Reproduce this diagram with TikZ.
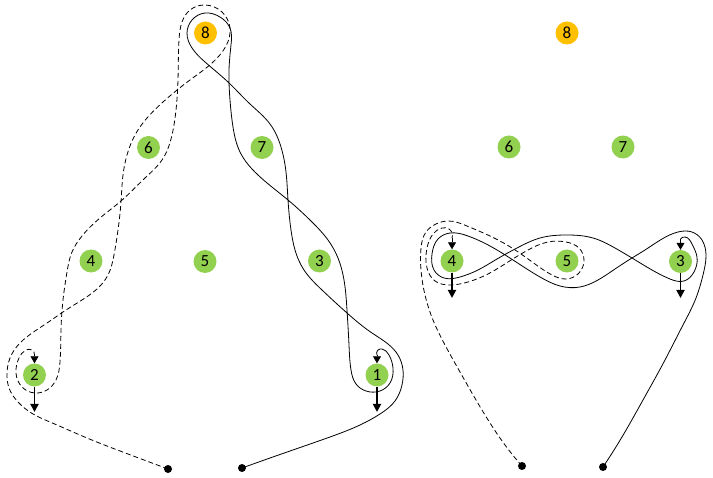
\documentclass[tikz,border=0pt]{standalone}
\usepackage{fontspec}
\setmainfont{Carlito}
\usetikzlibrary{arrows.meta,hobby}
\definecolor{nodegreen}{HTML}{92D050}
\definecolor{nodeorange}{HTML}{FFC000}
\begin{document}
\begin{tikzpicture}[x=1pt,y=-1pt,
  knot/.style={circle,fill=nodegreen,minimum size=23pt,inner sep=0pt,font=\fontsize{17}{19}\selectfont},
  topknot/.style={knot,fill=nodeorange},
  endpt/.style={circle,fill=black,minimum size=8pt,inner sep=0pt},
  strand/.style={line width=0.8pt,black},
  dstrand/.style={strand,dash pattern=on 5pt off 3pt},
  tipin/.style={line width=0.8pt,-{Triangle[length=7pt,width=8pt]}},
  thickarr/.style={line width=1.8pt,-{Triangle[length=8pt,width=8pt]}}]
\useasboundingbox (0,0) rectangle (713,478);

% ---------- left figure nodes
\node[topknot] (L8) at (205.5,33) {8};
\node[knot] (L6) at (148.5,147.5) {6};
\node[knot] (L7) at (262,147.5) {7};
\node[knot] (L4) at (91,261) {4};
\node[knot] (L5) at (205,261.5) {5};
\node[knot] (L3) at (319.5,261) {3};
\node[knot] (L2) at (34.5,375) {2};
\node[knot] (L1) at (377,375) {1};
\node[endpt] (LD1) at (168,469) {};
\node[endpt] (LD2) at (242,468) {};
\coordinate (L2in) at (34.5,355);
\coordinate (L1in) at (377,355);
\coordinate (L2out) at (34.5,412);
\coordinate (L1out) at (377,412);

% ---------- right figure nodes
\node[topknot] (R8) at (567,33) {8};
\node[knot] (R6) at (509,147) {6};
\node[knot] (R7) at (623,147) {7};
\node[knot] (R4) at (452,261) {4};
\node[knot] (R5) at (567,261) {5};
\node[knot] (R3) at (680.5,261.5) {3};
\node[endpt] (RD1) at (522,466) {};
\node[endpt] (RD2) at (603,467) {};
\coordinate (R4in) at (452,238);
\coordinate (R3in) at (680.5,239);
\coordinate (R4out) at (452,298);
\coordinate (R3out) at (680.5,298);

% ---------- left dashed strand
\draw[dstrand] (LD1.center) to[curve through={(128,454) .. (87,438) .. (50,422) .. (33,414) .. (18,402) .. (9,388) .. (7,375) .. (10,358) .. (20,343) .. (35,331) .. (50,321) .. (63,312) .. (82,300) .. (97,289) .. (108,275) .. (114,255) .. (118,230) .. (121,202) .. (123,175) .. (127,155) .. (135,135) .. (147,118) .. (163,102) .. (190,80) .. (212,63) .. (226,46) .. (230,28) .. (222,12) .. (205,5) .. (190,10) .. (182,22) .. (179,40) .. (178,80) .. (176,110) .. (172,135) .. (162,160) .. (145,178) .. (121,201) .. (100,218) .. (82,236) .. (72,252) .. (67,272) .. (63,300) .. (61,330) .. (60,362) .. (56,380) .. (47,390) .. (35,393) .. (22,387) .. (16,373) .. (19,358) .. (26,350) .. (32,350)}] (L2in);
\draw[tipin] (L2in) -- (L2);

% ---------- left solid strand
\draw[strand] (LD2.center) to[curve through={(290,451) .. (330,437) .. (360,425) .. (380,414) .. (395,401) .. (402,385) .. (403,370) .. (398,355) .. (388,344) .. (372,333) .. (347,313) .. (322,290) .. (304,270) .. (295,250) .. (291,230) .. (288,200) .. (286,172) .. (281,147) .. (270,124) .. (250,104) .. (228,82) .. (205,62) .. (192,48) .. (187,33) .. (192,20) .. (205,13) .. (220,17) .. (230,28) .. (231,45) .. (229,70) .. (230,100) .. (233,127) .. (240,152) .. (258,175) .. (288,200) .. (312,222) .. (328,240) .. (338,258) .. (344,280) .. (347,310) .. (349,345) .. (351,370) .. (356,384) .. (366,391) .. (380,391) .. (390,383) .. (393,368) .. (389,355) .. (382,349) .. (378,350)}] (L1in);
\draw[tipin] (L1in) -- (L1);

\draw[thickarr] (L2) -- (L2out);
\draw[thickarr] (L1) -- (L1out);

% ---------- right dashed strand
\draw[dstrand] (RD1.center) to[curve through={(505,445) .. (485,415) .. (460,372) .. (445,345) .. (433,320) .. (425,295) .. (421,270) .. (421,248) .. (426,232) .. (436,224) .. (448,221) .. (467,226) .. (490,236) .. (512,248) .. (535,264) .. (552,275) .. (566,279) .. (578,274) .. (584,261) .. (579,248) .. (566,242) .. (548,242) .. (528,250) .. (508,262) .. (488,274) .. (468,282) .. (450,285) .. (435,281) .. (427,268) .. (427,248) .. (433,234) .. (442,228) .. (449,229)}] (R4in);
\draw[tipin] (R4in) -- (R4);

% ---------- right solid strand
\draw[strand] (RD2.center) to[curve through={(622,437) .. (643,400) .. (665,360) .. (683,325) .. (696,298) .. (703,275) .. (706,255) .. (702,240) .. (692,232) .. (678,232) .. (662,239) .. (645,250) .. (632,258) .. (615,269) .. (598,280) .. (580,287) .. (560,286) .. (540,277) .. (513,260) .. (490,246) .. (468,236) .. (450,233) .. (438,239) .. (432,254) .. (434,270) .. (444,278) .. (460,277) .. (478,270) .. (497,259) .. (517,248) .. (540,238) .. (567,235) .. (593,238) .. (615,248) .. (632,258) .. (652,270) .. (670,279) .. (684,281) .. (694,272) .. (697,257) .. (692,244) .. (685,237)}] (R3in);
\draw[tipin] (R3in) -- (R3);

\draw[thickarr] (R4) -- (R4out);
\draw[thickarr] (R3) -- (R3out);
\end{tikzpicture}
\end{document}
